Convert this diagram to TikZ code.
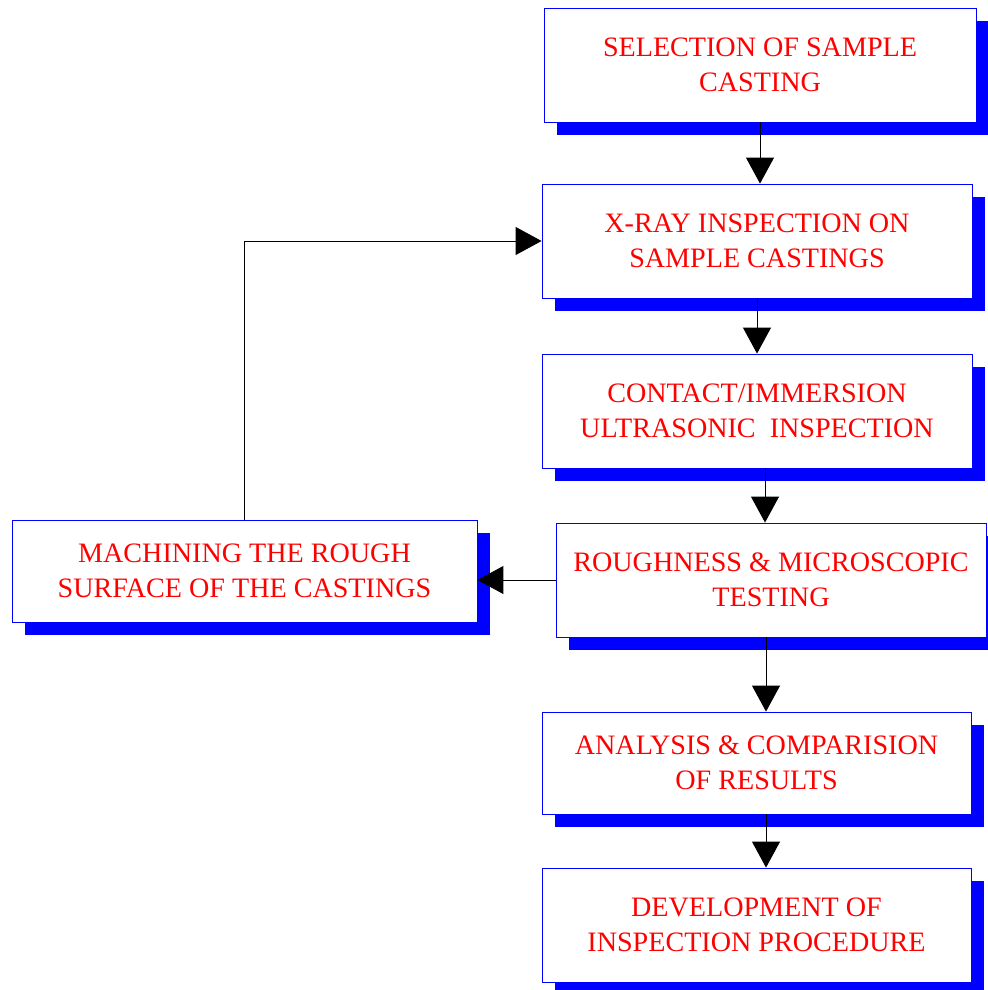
\documentclass[tikz,border=0pt]{standalone}
\usepackage{fontspec}
\setmainfont{Liberation Serif}
\usetikzlibrary{arrows.meta,shadows}

\begin{document}
\begin{tikzpicture}[
    stage/.style={rectangle, draw=blue, line width=0.6pt, fill=white, text=red, align=center,
        font=\fontsize{20}{25}\selectfont, inner sep=0pt,
        drop shadow={shadow xshift=0.325cm, shadow yshift=-0.325cm, fill=blue, opacity=1}},
    tall/.style={stage, minimum width=10.75cm, minimum height=2.85cm},
    short/.style={stage, minimum height=2.55cm},
    flow/.style={-{Triangle[width=0.7cm, length=0.65cm]}, line width=0.7pt, black}
]
\useasboundingbox (0,0) rectangle (24.675,-24.75);

% Main column
\node[tall, minimum width=10.8cm] (select) at (19.0,-1.625) {SELECTION OF SAMPLE\\CASTING};
\node[tall] (xray) at (18.925,-6.025) {X-RAY INSPECTION ON\\SAMPLE CASTINGS};
\node[tall] (contact) at (18.925,-10.275) {CONTACT/IMMERSION\\ULTRASONIC~ INSPECTION};
\node[tall] (rough) at (19.275,-14.5) {ROUGHNESS \& MICROSCOPIC\\TESTING};
\node[short, minimum width=10.725cm] (analysis) at (18.9125,-19.075) {ANALYSIS \& COMPARISION\\OF RESULTS};
\node[tall, minimum width=10.725cm] (develop) at (18.9125,-23.125) {DEVELOPMENT OF\\INSPECTION PROCEDURE};

% Side box
\node[short, minimum width=11.625cm] (machine) at (6.1125,-14.275) {MACHINING THE ROUGH\\SURFACE OF THE CASTINGS};

% Connections down the column
\draw[flow] (select) -- (select |- xray.north);
\draw[flow] (xray) -- (xray |- contact.north);
\draw[flow] (contact.south -| 19.125,0) -- (rough.north -| 19.125,0);
\draw[flow] (rough.south -| 19.15,0) -- (analysis.north -| 19.15,0);
\draw[flow] (analysis.south -| 19.15,0) -- (develop.north -| 19.15,0);

% Loop back through machining
\draw[flow] (rough) -- (rough -| machine.east);
\draw[flow] (machine.north) |- (xray.west);
\end{tikzpicture}
\end{document}
